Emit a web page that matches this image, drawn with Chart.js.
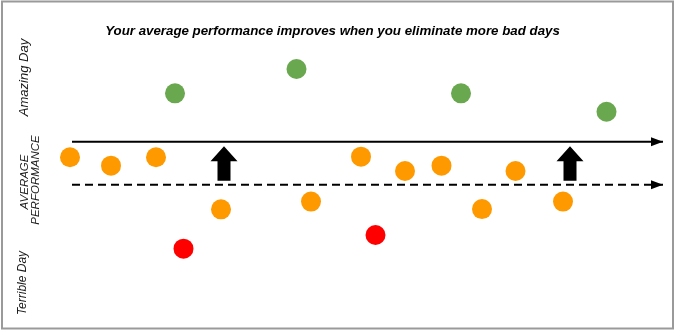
<!DOCTYPE html>
<html>
<head>
<meta charset="utf-8">
<script src="https://cdn.jsdelivr.net/npm/chart.js@4/dist/chart.umd.min.js"></script>
<style>
  html, body { margin: 0; padding: 0; background: #fff; }
  #wrap { width: 676px; height: 332px; }
</style>
</head>
<body>
<div id="wrap"><canvas id="chart" width="676" height="332"></canvas></div>
<script>
// Each day's position along the timeline and how well it went (0 = terrible, 100 = amazing)
const dayPosition = [2.0, 6.1, 10.6, 12.5, 13.35, 17.1, 24.65, 26.1, 31.1, 32.55, 35.5, 39.15, 41.1, 43.2, 46.55, 51.3, 55.65];
const performance = [52.8, 50.1, 52.8, 73.3, 23.5, 36.1, 81.1, 38.6, 53.0, 27.9, 48.4, 50.1, 73.3, 36.2, 48.4, 38.6, 67.4];
const dayRating = ['ok', 'ok', 'ok', 'amazing', 'terrible', 'ok', 'amazing', 'ok', 'ok', 'terrible', 'ok', 'ok', 'amazing', 'ok', 'ok', 'ok', 'amazing'];

// Average levels: today's (dashed) and after cutting the bad days (solid)
const currentAverage = 44.0;
const improvedAverage = 57.8;
const averageSpan = [2.2, 61.3];
const improvementMarks = [17.4, 52.0];

const titleText = 'Your average performance improves when you eliminate more bad days';
const axisTop = 'Amazing Day';
const axisMiddle = ['AVERAGE', 'PERFORMANCE'];
const axisBottom = 'Terrible Day';

const ratingColors = { amazing: '#6aa84f', ok: '#ff9900', terrible: '#ff0000' };

const dayPoints = dayPosition.map((x, i) => ({ x, y: performance[i] }));
const pointColors = dayRating.map(r => ratingColors[r]);

const FONT = '"Liberation Sans", Arial, sans-serif';

const decorations = {
  id: 'decorations',
  beforeDraw(chart) {
    const ctx = chart.ctx;
    ctx.save();
    ctx.fillStyle = '#fff';
    ctx.fillRect(0, 0, chart.width, chart.height);
    ctx.restore();
  },
  afterDatasetsDraw(chart) {
    const ctx = chart.ctx;
    const xs = chart.scales.x, ys = chart.scales.y;
    ctx.save();

    // arrowheads at the right end of both average lines
    ctx.fillStyle = '#000';
    [currentAverage, improvedAverage].forEach(level => {
      const tx = xs.getPixelForValue(averageSpan[1]);
      const ty = ys.getPixelForValue(level);
      ctx.beginPath();
      ctx.moveTo(tx, ty);
      ctx.lineTo(tx - 12, ty - 4.5);
      ctx.lineTo(tx - 12, ty + 4.5);
      ctx.closePath();
      ctx.fill();
    });

    // block arrows pointing from the current average up to the improved one
    const yLow = ys.getPixelForValue(currentAverage) - 4;
    const yHigh = ys.getPixelForValue(improvedAverage) + 4.5;
    improvementMarks.forEach(day => {
      const cx = xs.getPixelForValue(day);
      const headBase = yHigh + 15;
      ctx.beginPath();
      ctx.moveTo(cx, yHigh);
      ctx.lineTo(cx + 13.5, headBase);
      ctx.lineTo(cx + 6.5, headBase);
      ctx.lineTo(cx + 6.5, yLow);
      ctx.lineTo(cx - 6.5, yLow);
      ctx.lineTo(cx - 6.5, headBase);
      ctx.lineTo(cx - 13.5, headBase);
      ctx.closePath();
      ctx.fill();
    });

    // title
    ctx.fillStyle = '#000';
    ctx.font = 'bold italic 13.3px ' + FONT;
    ctx.textAlign = 'center';
    ctx.textBaseline = 'middle';
    ctx.fillText(titleText, 332.5, 31);

    // vertical axis captions
    const vText = (text, x, y, size) => {
      ctx.save();
      ctx.translate(x, y);
      ctx.rotate(-Math.PI / 2);
      ctx.font = 'italic ' + size + 'px ' + FONT;
      ctx.fillStyle = '#1a1a1a';
      ctx.textAlign = 'center';
      ctx.textBaseline = 'middle';
      ctx.fillText(text, 0, 0);
      ctx.restore();
    };
    vText(axisTop, 24, 77.5, 13);
    vText(axisMiddle[0], 25, 182, 11.5);
    vText(axisMiddle[1], 36, 180, 11.5);
    vText(axisBottom, 23, 283, 12);

    // frame
    ctx.strokeStyle = '#9a9a9a';
    ctx.lineWidth = 2;
    ctx.strokeRect(2, 1.5, 671, 327);
    ctx.restore();
  }
};

new Chart(document.getElementById('chart'), {
  data: {
    datasets: [
      {
        type: 'line',
        data: averageSpan.map(x => ({ x, y: improvedAverage })),
        borderColor: '#000',
        borderWidth: 2,
        pointRadius: 0,
        fill: false
      },
      {
        type: 'line',
        data: averageSpan.map(x => ({ x, y: currentAverage })),
        borderColor: '#000',
        borderWidth: 2,
        borderDash: [8, 5],
        pointRadius: 0,
        fill: false
      },
      {
        type: 'scatter',
        data: dayPoints,
        pointRadius: 10,
        pointBorderWidth: 0,
        pointBackgroundColor: pointColors,
        pointBorderColor: pointColors,
        clip: false
      }
    ]
  },
  options: {
    responsive: false,
    animation: false,
    events: [],
    layout: { autoPadding: false, padding: { left: 50, right: 6, top: 10, bottom: 10 } },
    scales: {
      x: { type: 'linear', min: 0, max: 62, display: false },
      y: { type: 'linear', min: 0, max: 100, display: false }
    },
    plugins: {
      legend: { display: false },
      title: { display: false },
      tooltip: { enabled: false }
    }
  },
  plugins: [decorations]
});
</script>
</body>
</html>
